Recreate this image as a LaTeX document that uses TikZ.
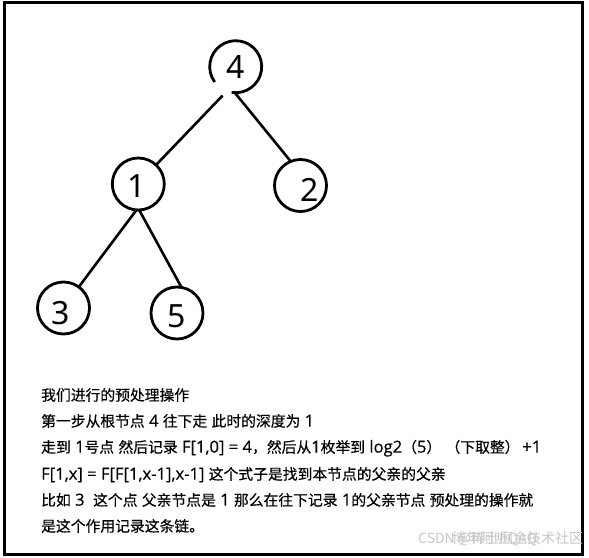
\documentclass[tikz,border=0pt]{standalone}
\usepackage{fontspec}
\setmainfont{Noto Sans CJK SC}[Kerning=Off,FakeBold=0.4]
\newfontfamily\numfont{Noto Sans}
\newfontfamily\lat{Open Sans}[Scale=1.12,FakeBold=0.4]
\newfontfamily\wmfont{Noto Sans CJK SC}
\newcommand{\lt}[1]{{\lat #1}}
\newcommand{\fl}[1]{\makebox[1em][l]{#1}}
\newcommand{\fr}[1]{\makebox[1em][r]{#1}}
\begin{document}
\begin{tikzpicture}[x=1pt,y=-1pt,
  treenode/.style={circle,draw,line width=2.8pt,minimum size=52pt,inner sep=0pt,outer sep=0pt,
    font=\numfont\fontsize{32}{32}\selectfont},
  edge/.style={line width=2.6pt},
  txt/.style={anchor=base west,inner sep=0pt,text=black,font=\fontsize{14.8}{16}\selectfont},
  wm/.style={anchor=base west,inner sep=0pt,text=black!22,font=\wmfont\fontsize{14}{16}\selectfont}]
\useasboundingbox (0,0) rectangle (589,557);
\draw[line width=3pt] (4.5,2.5) rectangle (582,554.5);
% tree
\node[treenode,draw=none] (n4) at (235.7,66.7) {4};
\draw[line width=2.8pt] (n4.261) arc[start angle=261,end angle=576,radius=26pt];
\node[treenode] (n1) at (138.3,184) {\raisebox{-1.7pt}[23pt][0pt]{1}\hspace*{4pt}};
\node[treenode] (n2) at (300.5,185.5) {\hspace*{19pt}\raisebox{-4.5pt}[23pt][0pt]{2}};
\node[treenode] (n3) at (63.5,308) {\raisebox{-4.5pt}[23pt][0pt]{3}\hspace*{5pt}};
\node[treenode] (n5) at (177,313) {\raisebox{-3pt}[23pt][0pt]{5}};
\draw[edge,shorten <=6pt] (n4.250) -- (n1.47);
\draw[edge] (n4.268) -- (n2.112);
\draw[edge] (n1.266) -- (n3.54);
\draw[edge] (n1.272) -- (n5.80);
% text
\node[txt] (t1) at (41,400.6) {我们进行的预处理操作};
\node[txt] (t2) at (41,426.6) {第一步从根节点\lt{ 4 }往下走\lt{ }此时的深度为\lt{ 1}};
\node[txt] (t3) at (41,452.6) {走到\lt{ 1}号点\lt{ }然后记录\lt{ F[1,0] = 4}\fl{，}然后从\lt{1}枚举到\lt{ log2}\fr{（}\lt{5}\fl{）}\lt{ }\fr{（}下取整\fl{）}\lt{\,+1}};
\node[txt] (t4) at (41,479.6) {\lt{F[1,x] = F[F[1,x-1],x-1] }这个式子是找到本节点的父亲的父亲};
\node[txt] (t5) at (41,505.6) {比如\lt{ 3 \ }这个点\lt{ }父亲节点是\lt{ 1 }那么在往下记录\lt{ 1}的父亲节点\lt{ }预处理的操作就};
\node[txt] (t6) at (41,531.6) {是这个作用记录这条链。};
% watermark
\node[wm] (w1) at (418,543) {CSDN @稀土掘金技术社区};
\node[wm] (w2) at (452,543) {博年阿听QAQ};
\end{tikzpicture}
\end{document}
